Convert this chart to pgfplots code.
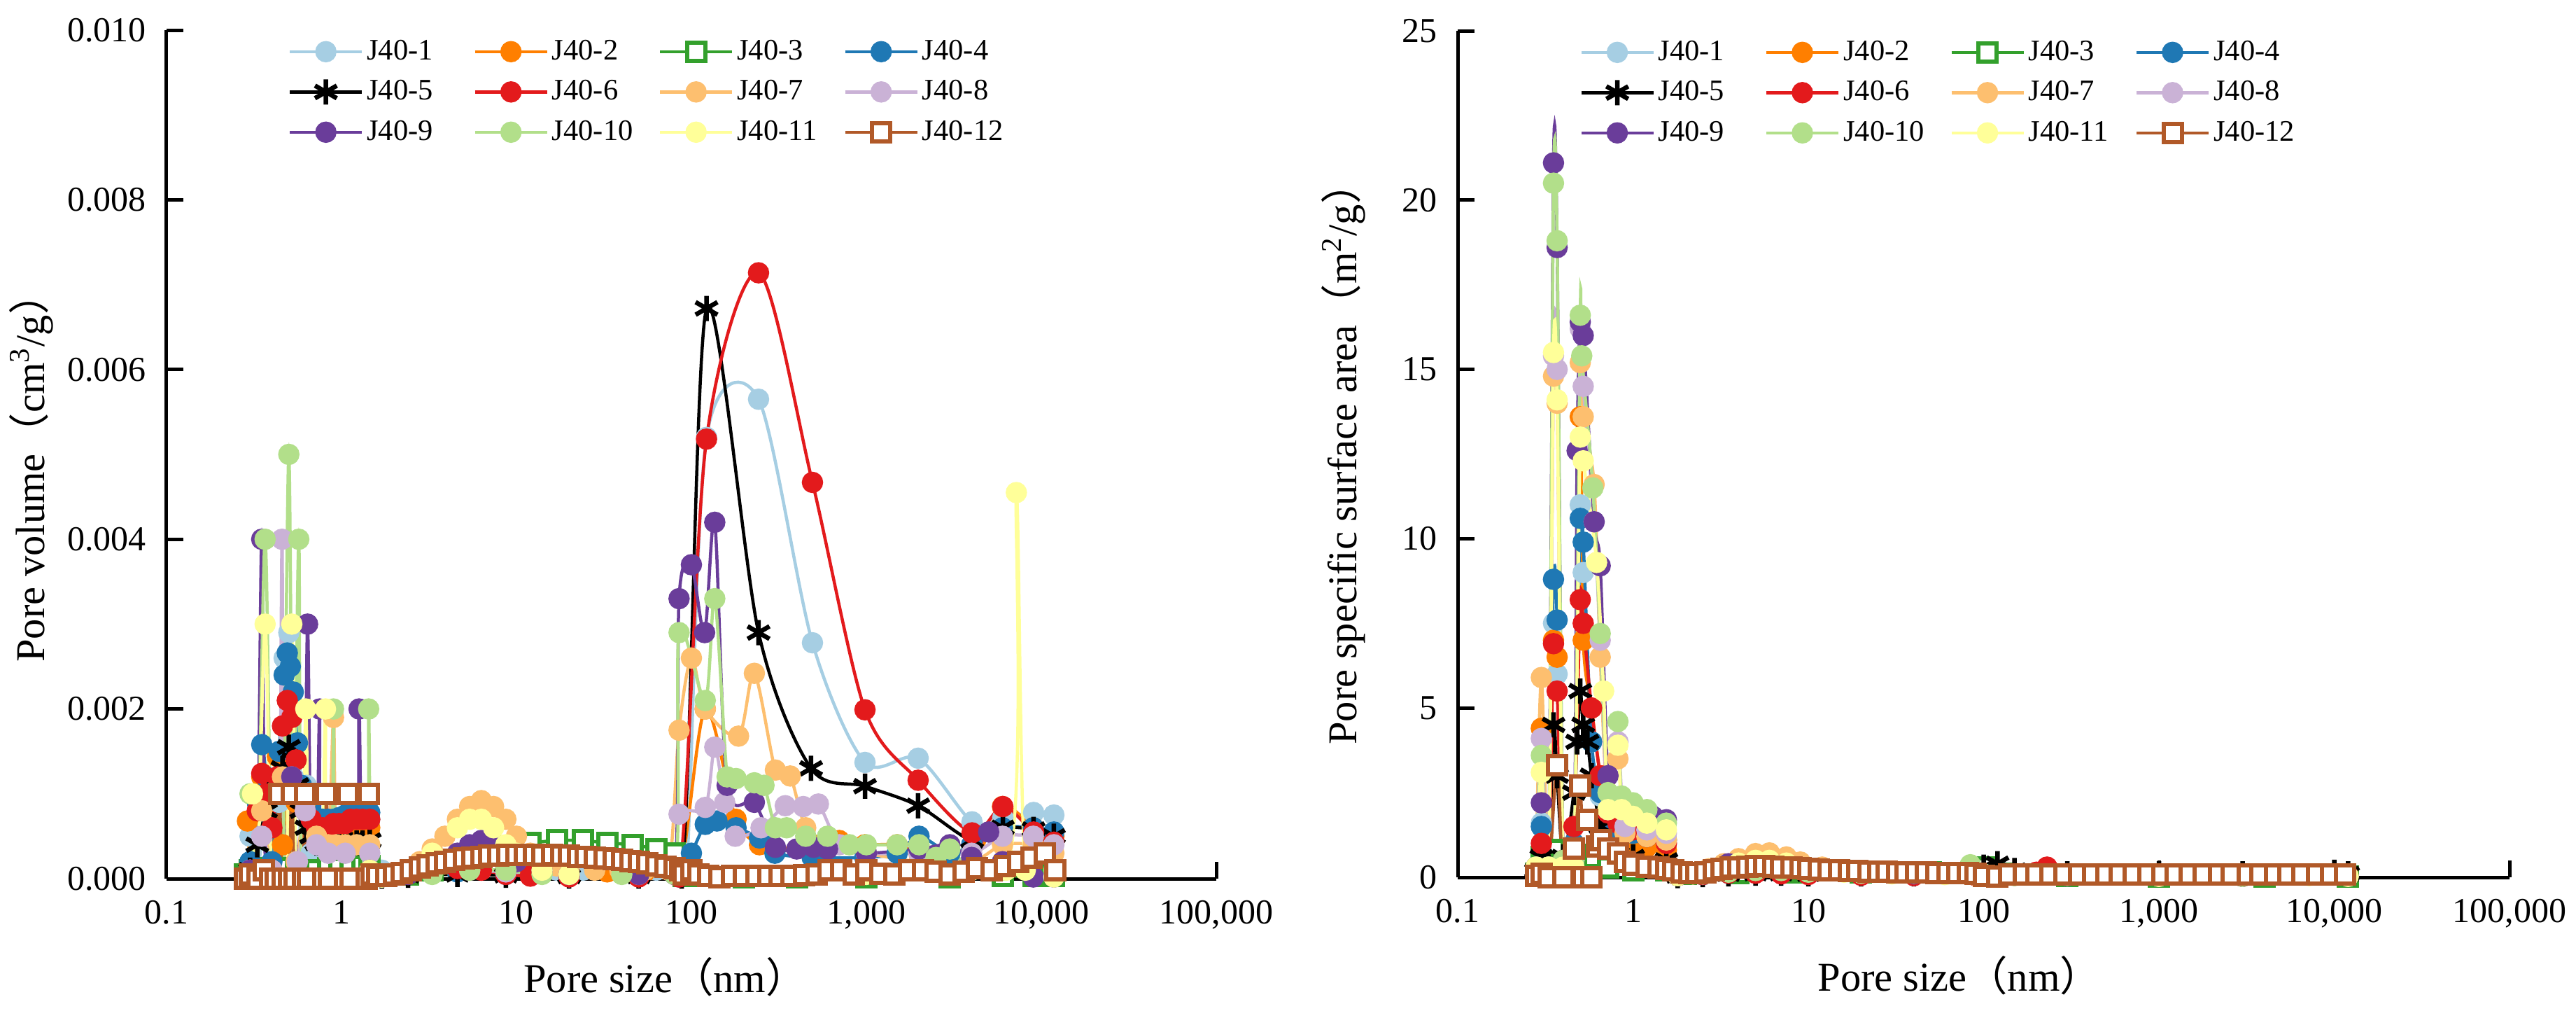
\documentclass[border=0pt]{standalone}
\usepackage{pgfplots}
\pgfplotsset{compat=1.18}
\usepackage{fontspec}
\setmainfont{Liberation Serif}
\newfontfamily\cjk{Noto Sans CJK SC}
\definecolor{c1}{HTML}{A6CEE3}
\definecolor{c2}{HTML}{FF7F00}
\definecolor{c3}{HTML}{33A02C}
\definecolor{c4}{HTML}{1F78B4}
\definecolor{c6}{HTML}{E31A1C}
\definecolor{c7}{HTML}{FDBF6F}
\definecolor{c8}{HTML}{CAB2D6}
\definecolor{c9}{HTML}{6A3D9A}
\definecolor{c10}{HTML}{B2DF8A}
\definecolor{c11}{HTML}{FFFF99}
\definecolor{c12}{HTML}{B15928}
\newcommand{\lp}{{\cjk （}}
\newcommand{\rp}{{\cjk ）}}
\newcommand{\legtxt}[1]{\makebox[29.4pt][l]{#1}}
\pgfplotsset{
    scale only axis,
    xmin=0.1, xmax=100000, ymin=0,
    axis x line=bottom, axis y line=left,
    axis line style={line width=1pt,-},
    major tick style={black, line width=1pt},
    major tick length=4.8pt, tick align=inside,
    xminorticks=false, yminorticks=false,
    tick label style={font=\fontsize{10}{12}\selectfont},
    xticklabel style={yshift=-2.8pt},
    yticklabel style={xshift=-2.3pt},
    /pgf/number format/assume math mode=true,
    label style={font=\fontsize{11.7}{14}\selectfont},
    legend columns=4,
    legend style={draw=none, fill=none, inner sep=0pt, anchor=north west,
       at={(axis description cs:0.1153,0.995)},
       font=\fontsize{8.5}{10}\selectfont,
       nodes={inner sep=1pt, text height=6pt, text depth=1.5pt},
       row sep=2pt, column sep=0pt},
    legend image code/.code={\draw[mark repeat=2,mark phase=2] plot coordinates {(0pt,0pt)(10.3pt,0pt)(20.6pt,0pt)};},
    s1/.style={c1, mark=*},
    s2/.style={c2, mark=*},
    s3/.style={c3, mark=square*, mark options={fill=white, line width=1.2pt}},
    s4/.style={c4, mark=*},
    s5/.style={black, mark=asterisk, mark options={line width=1.3pt, mark size=3.6pt}},
    s6/.style={c6, mark=*},
    s7/.style={c7, mark=*},
    s8/.style={c8, mark=*},
    s9/.style={c9, mark=*},
    s10/.style={c10, mark=*},
    s11/.style={c11, mark=*},
    s12/.style={c12, mark=square*, mark options={fill=white, line width=1.2pt}},
    every axis plot/.append style={line width=0.9pt, smooth, mark size=2.6pt},
}
\begin{document}
\begin{tikzpicture}
\useasboundingbox (0,0) rectangle (736.2pt,-288.8pt);
% ================= LEFT PANEL =================
\begin{axis}[xmode=log, width=300pt, height=242.4pt, at={(47.6pt,-251pt)}, anchor=south west,
  xtick={0.1,1,10,100,1000,10000,100000},
  xticklabels={0.1,1,10,100,{1,000},{10,000},{100,000}},
  ymax=0.010, ytick={0,0.002,0.004,0.006,0.008,0.010}, scaled y ticks=false,
  yticklabel style={/pgf/number format/.cd, fixed, fixed zerofill, precision=3},
  xlabel={Pore size\lp nm\rp},
  ylabel={Pore volume\lp cm\textsuperscript{3}/g\rp},
  xlabel style={at={(axis description cs:0.475,-0.1155)}, anchor=center},
  ylabel style={at={(axis description cs:-0.1287,0.484)}, anchor=center}]
\addplot[s1] table {
x y
0.30 0.0005
0.33 0
0.37 0.0010
0.40 0
0.44 0.0009
0.47 0.0026
0.50 0.0029
0.53 0.0012
0.56 0.0020
0.59 0
0.63 0.0011
0.67 0.0003
0.72 0.0007
0.78 0.0004
0.84 0.0005
0.90 0.0006
0.97 0.0005
1.05 0.0005
1.13 0.0006
1.22 0.0006
1.32 0.0006
1.45 0.0007
1.7 0.0001
2.4 0.0001
3.3 0.0002
4.6 0.00025
6.3 0.00025
8.7 0.0002
12 0.00015
17 0.0001
24 0.0001
33 0.0001
46 0.0001
63 0.0001
85 0.0001
95 0.0003
122 0.0052
242 0.00565
492 0.00278
982 0.00137
1977 0.00142
4018 0.00067
6026 0.00072
9036 0.00078
11800 0.00075
};
\addlegendentry{\legtxt{J40-1}}
\addplot[s2] table {
x y
0.29 0.00068
0.31 0
0.35 0.0012
0.38 0
0.43 0.00144
0.46 0.0004
0.50 0.0013
0.55 0.0009
0.62 0.0010
0.72 0.0006
0.84 0.0005
0.97 0.0006
1.13 0.0005
1.32 0.0006
1.45 0.0006
1.7 0.00005
2.4 0.0001
3.3 0.00015
4.6 0.0002
6.3 0.0002
8.7 0.00015
12 0.0001
20 0.00008
33 0.00008
54 0.00008
85 0.00005
120 0.0020
180 0.0007
245 0.0004
300 0.00035
490 0.0004
700 0.00045
980 0.0004
1500 0.0004
2000 0.0003
4000 0.0002
6000 0.00085
9000 0.0006
11800 0.0005
};
\addlegendentry{\legtxt{J40-2}}
\addplot[s3] table {
x y
0.28 0.00005
0.30 0.0001
0.33 0.00012
0.37 0.0001
0.40 0.0001
0.46 0.0001
0.50 0.00012
0.55 0.0001
0.62 0.0001
0.72 0.0001
0.84 0.00012
0.97 0.00012
1.13 0.00015
1.32 0.00015
1.45 0.00015
1.7 0.00003
2.4 0.00005
3.3 0.0001
4.6 0.00018
6.3 0.0003
8.7 0.00038
12 0.00042
17 0.00045
24 0.00045
33 0.00042
46 0.0004
63 0.00035
80 0.0003
90 0.00003
120 0.00003
200 0.00002
400 0.00002
1000 0.00002
3000 0.00002
6000 0.00003
9000 0.00003
11800 0.00003
};
\addlegendentry{\legtxt{J40-3}}
\addplot[s4] table {
x y
0.30 0.0002
0.33 0.0009
0.35 0.00158
0.37 0.0012
0.40 0.0002
0.44 0.0015
0.47 0.0024
0.49 0.00266
0.51 0.0025
0.53 0.0022
0.56 0.0016
0.59 0.0011
0.63 0.0009
0.67 0.0008
0.72 0.0007
0.78 0.0007
0.84 0.0007
0.90 0.0007
0.97 0.00072
1.05 0.00075
1.13 0.00078
1.22 0.0008
1.32 0.0008
1.45 0.00078
1.7 0.00005
2.4 0.00005
4.6 0.00008
8.7 0.00005
20 0.00003
50 0.00003
85 0.00002
100 0.0003
120 0.00064
140 0.00068
180 0.0006
245 0.00048
300 0.0003
490 0.00025
980 0.00025
1500 0.0003
2000 0.0005
3000 0.0003
4000 0.0004
6000 0.0006
9000 0.0006
11800 0.00055
};
\addlegendentry{\legtxt{J40-4}}
\addplot[s5] table {
x y
0.30 0.0001
0.33 0.0004
0.37 0.0008
0.40 0.0010
0.43 0.0012
0.46 0.0013
0.50 0.00155
0.53 0.0014
0.56 0.0011
0.59 0.0008
0.63 0.0006
0.67 0.0005
0.72 0.00042
0.78 0.0004
0.84 0.00038
0.90 0.00038
0.97 0.00038
1.05 0.0004
1.13 0.0004
1.22 0.00042
1.32 0.00042
1.45 0.00045
1.7 0.00003
2.4 0.00004
4.6 0.00005
8.7 0.00004
20 0.00003
50 0.00003
88 0.00003
122 0.00672
242 0.0029
483 0.0013
982 0.00109
1977 0.00086
4018 0.00045
6026 0.0006
9036 0.00058
11800 0.0005
};
\addlegendentry{\legtxt{J40-5}}
\addplot[s6] table {
x y
0.30 0.0001
0.33 0.0008
0.35 0.00124
0.37 0.0010
0.40 0.0006
0.43 0.0012
0.46 0.0018
0.49 0.0021
0.52 0.0019
0.55 0.0014
0.58 0.0010
0.62 0.0008
0.67 0.0007
0.72 0.0006
0.78 0.0006
0.84 0.0006
0.90 0.00065
0.97 0.00065
1.05 0.00065
1.13 0.0007
1.22 0.0007
1.32 0.0007
1.45 0.0007
1.7 0.00003
2.4 0.00005
3.3 0.0001
4.6 0.00012
6.3 0.0001
8.7 0.00005
12 0.00003
20 0.00002
50 0.00002
85 0.00002
122 0.00518
242 0.00714
492 0.00467
982 0.00199
1977 0.00116
4018 0.00054
6026 0.00085
9036 0.00055
11800 0.00043
};
\addlegendentry{\legtxt{J40-6}}
\addplot[s7] table {
x y
0.30 0.0001
0.35 0.0008
0.40 0.0001
0.46 0.0012
0.50 0.0010
0.55 0.0002
0.62 0.0009
0.72 0.0005
0.84 0.0004
0.90 0.0019
0.93 0.0004
1.05 0.0004
1.22 0.0004
1.45 0.0004
1.7 0.00002
2.0 0.00005
2.4 0.0001
2.8 0.0002
3.3 0.00035
3.9 0.0005
4.6 0.0007
5.4 0.00085
6.3 0.00092
7.4 0.00085
8.7 0.0007
10 0.0005
12 0.0003
14 0.0002
17 0.00015
20 0.0001
28 0.0001
39 0.0001
54 0.0001
74 0.0001
85 0.00175
100 0.0026
120 0.0020
186 0.00168
229 0.00242
302 0.00128
367 0.00121
450 0.0006
600 0.0004
1000 0.0003
2000 0.0002
4000 0.0002
6000 0.0004
9000 0.0004
11800 0.0003
};
\addlegendentry{\legtxt{J40-7}}
\addplot[s8] table {
x y
0.30 0.0001
0.35 0.0005
0.40 0.0001
0.44 0
0.457 0.0040
0.47 0
0.52 0.0012
0.56 0.0002
0.62 0.0008
0.72 0.0004
0.84 0.0003
1.05 0.0003
1.45 0.0003
1.7 0.00003
3.3 0.00008
5.4 0.0001
8.7 0.00008
20 0.00005
50 0.00005
80 0.00005
85 0.00076
120 0.00084
136 0.00155
155 0.0009
178 0.0005
250 0.0006
344 0.00086
436 0.00085
532 0.00088
700 0.0004
1000 0.0003
2000 0.0003
4000 0.0003
6000 0.0005
9000 0.0005
11800 0.0004
};
\addlegendentry{\legtxt{J40-8}}
\addplot[s9] table {
x y
0.30 0.0001
0.33 0
0.35 0.0040
0.37 0
0.46 0
0.52 0.0012
0.56 0
0.61 0
0.64 0.0030
0.67 0
0.72 0
0.75 0.0020
0.78 0
1.2 0
1.26 0.0020
1.31 0
1.45 0.0001
1.7 0.00002
2.4 0.00005
3.3 0.00015
4.6 0.0003
5.4 0.0004
6.3 0.00045
7.4 0.0004
8.7 0.0003
10 0.0002
14 0.0001
20 0.00005
50 0.00005
80 0.00005
85 0.0033
100 0.0037
119 0.0029
136 0.0042
160 0.0011
229 0.0009
302 0.00037
400 0.00035
500 0.00037
600 0.00035
1000 0.0003
2000 0.00035
3000 0.0004
4000 0.00025
5000 0.00055
6000 0.0002
9000 0.00002
11800 0.00002
};
\addlegendentry{\legtxt{J40-9}}
\addplot[s10] table {
x y
0.30 0.0010
0.33 0
0.366 0.0040
0.40 0
0.46 0
0.50 0.0050
0.53 0
0.57 0.0040
0.60 0
0.86 0
0.90 0.0020
0.94 0
1.38 0
1.43 0.0020
1.48 0
1.7 0.00002
3.3 0.00005
5.4 0.0001
8.7 0.0001
14 0.00005
40 0.00005
80 0.00005
85 0.0029
120 0.0021
136 0.0033
160 0.0012
180 0.00118
229 0.00113
260 0.0011
302 0.0006
350 0.0006
450 0.0005
600 0.0005
800 0.0004
1000 0.0004
1500 0.0004
2000 0.0004
2500 0.00025
3000 0.00035
4000 0.0001
6000 0.0001
11800 0.0001
};
\addlegendentry{\legtxt{J40-10}}
\addplot[s11] table {
x y
0.31 0.0010
0.33 0
0.366 0.0030
0.40 0
0.48 0
0.52 0.0030
0.55 0
0.60 0
0.625 0.0020
0.66 0
0.77 0
0.81 0.0020
0.85 0
1.45 0.0001
1.7 0.00002
2.4 0.0001
3.3 0.0003
4.6 0.0006
5.4 0.0007
6.3 0.0007
7.4 0.0006
8.7 0.0004
10 0.0003
14 0.0001
20 0.00005
85 0.00005
1000 0.00005
6300 0.0001
7200 0.00455
8100 0.0001
11800 0.00002
};
\addlegendentry{\legtxt{J40-11}}
\addplot[s12] table {
x y
0.28 0
0.30 0.00005
0.33 0
0.36 0.0001
0.39 0
0.42 0
0.44 0.0010
0.46 0
0.50 0
0.52 0.0010
0.54 0
0.60 0
0.62 0.0010
0.64 0
0.79 0
0.82 0.0010
0.85 0
1.05 0
1.09 0.0010
1.13 0
1.39 0
1.43 0.0010
1.48 0.00005
1.6 0.00003
1.8 0.00003
2.0 0.00005
2.2 0.00007
2.5 0.0001
2.8 0.00013
3.1 0.00016
3.5 0.00018
3.9 0.0002
4.4 0.00022
5.0 0.00024
5.6 0.00025
6.3 0.00026
7.0 0.00027
7.9 0.00027
8.9 0.00028
10 0.00028
11.2 0.00028
12.6 0.00028
14 0.00027
16 0.00028
18 0.00027
20 0.00027
22.5 0.00026
25 0.00026
28 0.00025
32 0.00024
36 0.00023
40 0.00022
45 0.00021
50 0.0002
56 0.00018
63 0.00016
71 0.00014
80 0.00012
86 0.0001
90 0.00005
100 0.0001
110 0.00005
125 0.00003
145 0.00002
170 0.00003
200 0.00003
235 0.00003
275 0.00003
320 0.00003
375 0.00003
440 0.00004
520 0.00005
610 0.0001
720 0.0001
850 0.00005
1000 0.0001
1200 0.00006
1450 0.00005
1750 0.0001
2100 0.0001
2500 0.00008
3000 0.00005
3600 0.00008
4300 0.00012
5200 0.0001
6200 0.00015
7400 0.0002
8800 0.00025
10500 0.0003
12000 0.0001
};
\addlegendentry{\legtxt{J40-12}}
\end{axis}
% ================= RIGHT PANEL =================
\begin{axis}[xmode=log, width=300.6pt, height=241.8pt, at={(416.6pt,-250.6pt)}, anchor=south west,
  xtick={0.1,1,10,100,1000,10000,100000},
  xticklabels={0.1,1,10,100,{1,000},{10,000},{100,000}},
  ymax=25, ytick={0,5,10,15,20,25},
  xlabel={Pore size\lp nm\rp},
  ylabel={Pore specific surface area\lp m\textsuperscript{2}/g\rp},
  xlabel style={at={(axis description cs:0.477,-0.1158)}, anchor=center},
  ylabel style={at={(axis description cs:-0.1085,0.50)}, anchor=center}]
\addplot[s1] table {
x y
0.28 0.2
0.30 1.6
0.33 0.2
0.352 7.5
0.369 6.0
0.40 0.3
0.46 0.6
0.50 11.0
0.52 9.0
0.58 4.0
0.65 2.4
0.72 1.5
0.82 1.4
1.0 1.2
1.2 1.1
1.55 1.0
1.8 0.05
2.5 0.08
3.5 0.15
5 0.2
7 0.18
10 0.15
20 0.12
40 0.1
90 0.08
100 0.1
150 0.08
300 0.05
1000 0.03
3000 0.03
12000 0.03
};
\addlegendentry{\legtxt{J40-1}}
\addplot[s2] table {
x y
0.28 0.3
0.30 4.4
0.33 0.3
0.352 7.0
0.369 6.5
0.40 0.3
0.46 0.5
0.50 13.6
0.52 7.0
0.58 5.0
0.65 3.0
0.72 1.5
0.82 1.2
1.0 1.0
1.2 0.9
1.55 0.8
1.8 0.05
2.5 0.1
3.5 0.2
5 0.25
7 0.22
10 0.18
20 0.12
40 0.1
90 0.08
100 0.1
150 0.08
300 0.05
1000 0.03
3000 0.03
12000 0.03
};
\addlegendentry{\legtxt{J40-2}}
\addplot[s3] table {
x y
0.28 0.1
0.30 0.6
0.33 0.3
0.352 0.8
0.369 0.4
0.40 0.2
0.46 0.6
0.50 1.0
0.55 1.2
0.60 0.6
0.72 0.3
1.0 0.2
1.55 0.2
2 0.1
4 0.12
8 0.15
20 0.15
50 0.15
90 0.3
100 0.3
130 0.1
300 0.05
1000 0.03
4000 0.03
12000 0.03
};
\addlegendentry{\legtxt{J40-3}}
\addplot[s4] table {
x y
0.28 0.2
0.30 1.5
0.33 0.3
0.352 8.8
0.369 7.6
0.40 0.4
0.46 1.0
0.50 10.6
0.52 9.9
0.58 4.0
0.65 2.5
0.72 1.6
0.82 1.4
1.0 1.3
1.2 1.2
1.55 1.1
1.8 0.05
2.5 0.08
3.5 0.12
5 0.15
7 0.15
10 0.12
20 0.1
40 0.08
90 0.06
100 0.08
150 0.06
300 0.04
1000 0.03
3000 0.03
12000 0.03
};
\addlegendentry{\legtxt{J40-4}}
\addplot[s5] table {
x y
0.28 0.2
0.30 0.6
0.33 0.3
0.352 4.5
0.369 3.0
0.40 0.6
0.46 2.5
0.48 4.0
0.50 5.5
0.52 4.5
0.55 4.0
0.58 3.0
0.65 1.5
0.72 0.9
0.82 0.7
1.0 0.6
1.55 0.5
1.8 0.05
2.5 0.08
3.5 0.1
5 0.12
7 0.12
10 0.1
20 0.1
40 0.1
90 0.1
100 0.3
120 0.4
150 0.2
300 0.1
1000 0.1
3000 0.1
10000 0.15
12000 0.1
};
\addlegendentry{\legtxt{J40-5}}
\addplot[s6] table {
x y
0.28 0.2
0.30 1.0
0.33 0.3
0.352 6.9
0.369 5.5
0.40 0.5
0.46 1.5
0.50 8.2
0.52 7.5
0.58 5.0
0.65 3.0
0.72 1.9
0.82 1.6
1.0 1.4
1.2 1.2
1.55 1.0
1.8 0.05
2.5 0.08
3.5 0.12
5 0.12
7 0.1
10 0.08
20 0.06
40 0.05
90 0.05
100 0.05
200 0.15
230 0.3
260 0.1
1000 0.03
3000 0.03
12000 0.05
};
\addlegendentry{\legtxt{J40-6}}
\addplot[s7] table {
x y
0.28 0.3
0.30 5.9
0.33 0.3
0.352 14.8
0.369 14.0
0.40 0.3
0.46 0.5
0.50 15.2
0.52 13.6
0.60 11.6
0.65 6.5
0.72 2.0
0.82 3.5
0.9 1.3
1.2 1.2
1.55 1.1
1.8 0.05
2.2 0.1
2.7 0.25
3.3 0.4
4.0 0.55
5.0 0.7
6.0 0.72
7.5 0.6
9 0.45
12 0.3
16 0.22
22 0.18
30 0.15
40 0.13
55 0.12
75 0.12
90 0.1
100 0.08
150 0.06
300 0.05
1000 0.03
3000 0.03
12000 0.03
};
\addlegendentry{\legtxt{J40-7}}
\addplot[s8] table {
x y
0.28 0.3
0.30 4.1
0.33 0.3
0.352 15.4
0.369 15.0
0.40 0.3
0.46 0.5
0.50 16.2
0.52 14.5
0.60 10.5
0.65 7.0
0.72 2.0
0.82 4.0
0.9 1.5
1.2 1.4
1.55 1.3
1.8 0.05
2.5 0.1
3.5 0.2
5 0.25
7 0.22
10 0.18
20 0.14
40 0.12
90 0.1
100 0.08
150 0.06
300 0.05
1000 0.03
3000 0.03
12000 0.03
};
\addlegendentry{\legtxt{J40-8}}
\addplot[s9] table {
x y
0.28 0.3
0.30 2.2
0.33 0.3
0.352 21.1
0.369 18.6
0.40 0.5
0.46 0.5
0.48 12.6
0.50 16.4
0.52 16.0
0.60 10.5
0.65 9.2
0.72 3.0
0.82 2.2
0.9 2.0
1.1 1.9
1.3 1.8
1.55 1.7
1.8 0.05
2.5 0.15
3.5 0.4
5 0.45
7 0.35
10 0.25
20 0.15
40 0.1
90 0.08
100 0.08
150 0.06
300 0.05
1000 0.03
3000 0.03
12000 0.03
};
\addlegendentry{\legtxt{J40-9}}
\addplot[s10] table {
x y
0.28 0.3
0.30 3.6
0.33 0.3
0.352 20.5
0.369 18.8
0.40 0.5
0.46 0.5
0.50 16.6
0.51 15.4
0.59 11.5
0.65 7.2
0.72 2.5
0.82 4.6
0.86 2.4
1.0 2.2
1.2 2.0
1.55 1.6
1.8 0.05
2.5 0.1
3.5 0.15
5 0.2
7 0.2
10 0.15
20 0.12
40 0.12
84 0.37
100 0.1
150 0.05
300 0.05
1000 0.03
3000 0.03
12000 0.03
};
\addlegendentry{\legtxt{J40-10}}
\addplot[s11] table {
x y
0.28 0.3
0.30 3.1
0.33 0.3
0.352 15.5
0.369 14.1
0.40 0.3
0.46 0.3
0.50 13.0
0.52 12.3
0.62 9.3
0.68 5.5
0.72 2.0
0.82 3.9
0.86 2.0
1.0 1.8
1.2 1.6
1.55 1.4
1.8 0.05
2.2 0.1
2.7 0.2
3.3 0.3
4.0 0.42
5.0 0.5
6.0 0.5
7.5 0.42
9 0.3
12 0.2
16 0.15
30 0.1
60 0.08
90 0.06
100 0.05
1000 0.03
7200 0.05
12000 0.03
};
\addlegendentry{\legtxt{J40-11}}
\addplot[s12] table {
x y
0.28 0.05
0.30 0.1
0.33 0
0.369 3.3
0.40 0
0.46 0.85
0.50 2.7
0.52 0
0.55 1.7
0.58 0
0.62 0.9
0.66 1.1
0.72 0.85
0.82 0.7
0.9 0.45
1.0 0.38
1.2 0.32
1.4 0.28
1.55 0.25
1.7 0.2
1.9 0.15
2.1 0.12
2.3 0.12
2.6 0.15
2.9 0.2
3.2 0.25
3.6 0.28
4.0 0.3
4.5 0.32
5.0 0.33
5.6 0.33
6.3 0.32
7.0 0.3
8 0.28
9 0.26
10 0.24
11.5 0.22
13 0.21
15 0.2
17 0.19
19 0.18
22 0.17
25 0.16
28 0.16
32 0.15
36 0.15
41 0.14
47 0.14
54 0.13
62 0.13
71 0.12
81 0.12
90 0.1
100 0.05
120 0.03
140 0.08
170 0.08
200 0.08
240 0.08
290 0.08
350 0.08
420 0.08
500 0.08
600 0.08
720 0.08
870 0.08
1050 0.08
1250 0.08
1500 0.08
1800 0.08
2200 0.08
2600 0.08
3200 0.08
3800 0.08
4600 0.08
5500 0.08
6600 0.08
8000 0.08
9600 0.08
11500 0.08
};
\addlegendentry{\legtxt{J40-12}}
\end{axis}
\end{tikzpicture}
\end{document}
